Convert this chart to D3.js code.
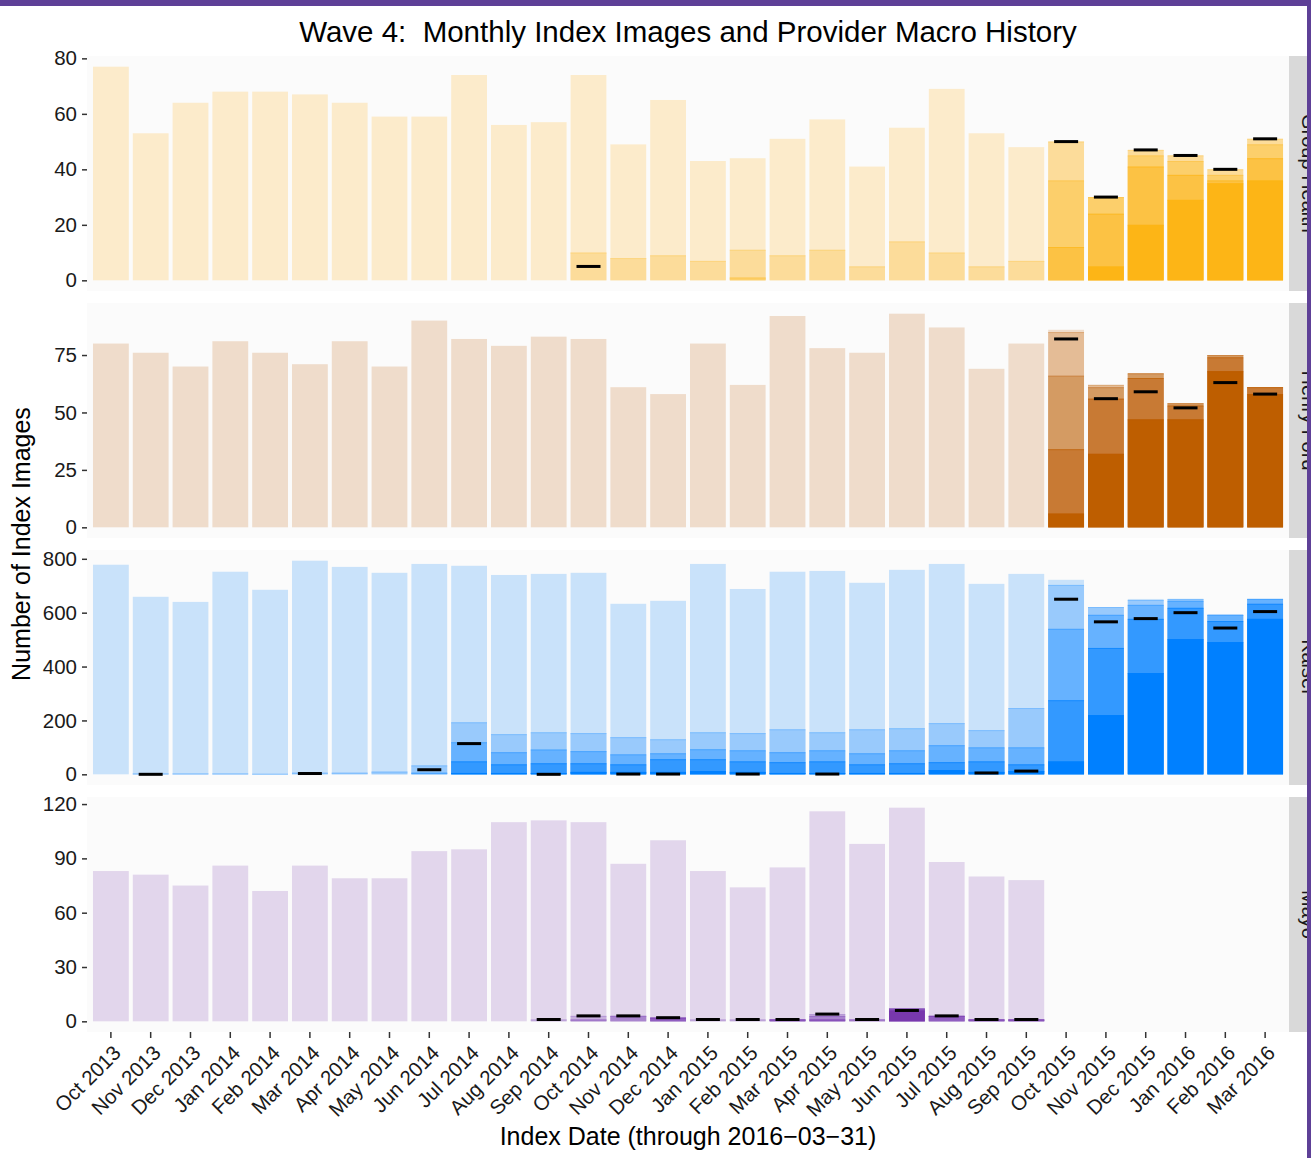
<!DOCTYPE html>
<meta charset="utf-8">
<style>
body { margin: 0; background: #fff; }
svg { display: block; font-family: "Liberation Sans", Arial, sans-serif; }
.tick line { stroke: #333; stroke-width: 1.5; }
.tick text { fill: #1a1a1a; font-size: 20.5px; }
</style>
<svg width="1311" height="1158"></svg>
<script src="https://d3js.org/d3.v7.min.js"></script>
<script>

var months = ["Oct 2013","Nov 2013","Dec 2013","Jan 2014","Feb 2014","Mar 2014","Apr 2014","May 2014",
  "Jun 2014","Jul 2014","Aug 2014","Sep 2014","Oct 2014","Nov 2014","Dec 2014","Jan 2015","Feb 2015",
  "Mar 2015","Apr 2015","May 2015","Jun 2015","Jul 2015","Aug 2015","Sep 2015","Oct 2015","Nov 2015",
  "Dec 2015","Jan 2016","Feb 2016","Mar 2016"];

var providers = ["Group Health", "Henry Ford", "Kaiser", "Mayo"];

// Group Health
var ghTotal = [77,53,64,68,68,67,64,59,59,74,56,57,74,49,65,43,44,51,58,41,55,69,53,48,50,30,47,45,40,51];
var ghL2    = [0,0,0,0,0,0,0,0,0,0,0,0,10,8,9,7,11,9,11,5,14,10,5,7,50,30,47,45,40,51];
var ghL3    = [0,0,0,0,0,0,0,0,0,0,0,0,0,0,0,0,1,0,0,0,0,0,0,0,36,30,45,43,38,49];
var ghL4    = [0,0,0,0,0,0,0,0,0,0,0,0,0,0,0,0,0,0,0,0,0,0,0,0,12,24,41,38,36,44];
var ghL5    = [0,0,0,0,0,0,0,0,0,0,0,0,0,0,0,0,0,0,0,0,0,0,0,0,0,5,20,29,35,36];
var ghMacro = [null,null,null,null,null,null,null,null,null,null,null,null,5,null,null,null,null,null,
  null,null,null,null,null,null,50,30,47,45,40,51];

// Henry Ford
var hfTotal = [80,76,70,81,76,71,81,70,90,82,79,83,82,61,58,80,62,92,78,76,93,87,69,80,86,62,67,54,75,61];
var hfL2    = [0,0,0,0,0,0,0,0,0,0,0,0,0,0,0,0,0,0,0,0,0,0,0,0,85,62,67,54,75,61];
var hfL3    = [0,0,0,0,0,0,0,0,0,0,0,0,0,0,0,0,0,0,0,0,0,0,0,0,66,61,67,54,75,61];
var hfL4    = [0,0,0,0,0,0,0,0,0,0,0,0,0,0,0,0,0,0,0,0,0,0,0,0,34,56,65,53,74,61];
var hfL5    = [0,0,0,0,0,0,0,0,0,0,0,0,0,0,0,0,0,0,0,0,0,0,0,0,6,32,47,47,68,58];
var hfMacro = [null,null,null,null,null,null,null,null,null,null,null,null,null,null,null,null,null,null,
  null,null,null,null,null,null,82,56,59,52,63,58];

// Kaiser
var kpTotal = [778,659,640,752,685,793,770,748,781,774,740,744,748,633,644,781,688,752,755,711,759,781,707,744,722,621,651,651,592,651];
var kpL2    = [0,3,3,3,2,6,6,10,33,193,149,156,153,138,130,156,153,167,156,167,171,190,164,246,703,621,647,651,592,651];
var kpL3    = [0,0,0,0,0,0,0,0,6,119,82,92,86,74,78,93,89,82,89,78,89,108,100,100,540,592,629,644,592,651];
var kpL4    = [0,0,0,0,0,0,0,0,0,48,37,41,41,37,56,56,48,45,48,37,41,45,48,37,275,469,577,618,569,633];
var kpL5    = [0,0,0,0,0,0,0,0,0,5,5,5,9,9,9,12,9,5,5,5,5,16,9,12,48,220,376,502,491,577];
var kpMacro = [null,0,null,null,null,3,null,null,17,114,null,0,null,1,1,null,1,null,1,null,null,null,5,12,
  650,566,578,600,543,604];

// Mayo
var myTotal = [83,81,75,86,72,86,79,79,94,95,110,111,110,87,100,83,74,85,116,98,118,88,80,78,null,null,null,null,null,null];
var myL2    = [0,0,0,0,0,0,0,0,0,0,0,1,3,3,2,1,1,1,4,1,7,3,1,1,null,null,null,null,null,null];
var myL3    = [0,0,0,0,0,0,0,0,0,0,0,0,1,3,2,0,0,1,3,1,7,3,1,1,null,null,null,null,null,null];
var myL4    = [0,0,0,0,0,0,0,0,0,0,0,0,0,0,2,0,0,1,1,0,7,3,1,1,null,null,null,null,null,null];
var myL5    = [0,0,0,0,0,0,0,0,0,0,0,0,0,0,0,0,0,0,0,0,6,0,0,0,null,null,null,null,null,null];
var myMacro = [null,null,null,null,null,null,null,null,null,null,null,1,3,3,2,1,1,1,4,1,6,3,1,1,
  null,null,null,null,null,null];

var yTicks = [[0,20,40,60,80], [0,25,50,75], [0,200,400,600,800], [0,30,60,90,120]];

var shades = [
  ["#fcebcb","#fcdc9a","#fccf6b","#fcc244","#fdb516"],
  ["#efdccb","#e4bc96","#d49b63","#c87a34","#be5e00"],
  ["#c9e2fa","#99cafc","#66b2ff","#3399ff","#0080ff"],
  ["#e2d6ec","#c7b0dd","#a985ce","#905ec0","#7838ad"]
];

var layers = [
  [ghTotal, ghL2, ghL3, ghL4, ghL5],
  [hfTotal, hfL2, hfL3, hfL4, hfL5],
  [kpTotal, kpL2, kpL3, kpL4, kpL5],
  [myTotal, myL2, myL3, myL4, myL5]
];
var macros = [ghMacro, hfMacro, kpMacro, myMacro];

var svg = d3.select("svg");

var left = 87, right = 1289, top0 = 56, panelH = 235, gap = 12;

var x = d3.scaleBand()
    .domain(months)
    .range([left, right])
    .paddingInner(0.1)
    .paddingOuter(0.15);

providers.forEach(function(name, p) {
  var pt = top0 + p * (panelH + gap), pb = pt + panelH;
  var max = d3.max(layers[p][0]);
  var y = d3.scaleLinear()
      .domain([-0.05 * max, max * 1.05])
      .range([pb, pt]);

  var g = svg.append("g");

  g.append("rect")
      .attr("x", left).attr("y", pt)
      .attr("width", right - left).attr("height", panelH)
      .attr("fill", "#fbfbfb");

  // strip
  g.append("rect")
      .attr("x", right).attr("y", pt)
      .attr("width", 1311 - right).attr("height", panelH)
      .attr("fill", "#d9d9d9");
  g.append("text")
      .attr("transform", "translate(1302," + (pt + panelH / 2) + ") rotate(90)")
      .attr("text-anchor", "middle")
      .attr("fill", "#1a1a1a")
      .style("font-size", "20px")
      .text(name);

  layers[p].forEach(function(vals, k) {
    var d = months.map(function(m, i) { return {m: m, v: vals[i]}; })
        .filter(function(d) { return d.v != null && d.v > 0; });
    var lg = g.append("g");
    lg.selectAll("rect")
      .data(d)
      .enter().append("rect")
        .attr("x", function(d) { return x(d.m); })
        .attr("width", x.bandwidth())
        .attr("y", function(d) { return y(d.v); })
        .attr("height", function(d) { return y(0) - y(d.v); })
        .attr("fill", shades[p][k]);
    // faint edge at the top of each inner layer
    if (k > 0) {
      lg.selectAll("line")
        .data(d)
        .enter().append("line")
          .attr("x1", function(d) { return x(d.m); })
          .attr("x2", function(d) { return x(d.m) + x.bandwidth(); })
          .attr("y1", function(d) { return y(d.v) + 0.5; })
          .attr("y2", function(d) { return y(d.v) + 0.5; })
          .attr("stroke", shades[p][Math.min(k + 1, 4)])
          .attr("stroke-opacity", 0.6)
          .attr("stroke-width", 1);
    }
  });

  g.append("g").selectAll("rect")
    .data(months.map(function(m, i) { return {m: m, v: macros[p][i]}; })
      .filter(function(d) { return d.v != null; }))
    .enter().append("rect")
      .attr("x", function(d) { return x(d.m) + x.bandwidth() / 2 - 12; })
      .attr("width", 24)
      .attr("y", function(d) { return y(d.v) - 1.5; })
      .attr("height", 3)
      .attr("fill", "#000");

  g.append("g")
      .attr("transform", "translate(" + left + ",0)")
      .call(d3.axisLeft(y).tickValues(yTicks[p]).tickSize(5).tickPadding(5))
      .call(function(a) { a.select(".domain").remove(); });

  if (p === providers.length - 1) {
    var xa = g.append("g")
        .attr("transform", "translate(0," + pb + ")")
        .call(d3.axisBottom(x).tickSize(6))
        .call(function(a) { a.select(".domain").remove(); });
    xa.selectAll("text")
        .attr("x", 0).attr("y", 0)
        .attr("dy", "0.71em")
        .attr("transform", "translate(1,12) rotate(-45)")
        .style("text-anchor", "end");
  }
});

svg.append("text")
    .attr("x", (left + right) / 2)
    .attr("y", 42)
    .attr("text-anchor", "middle")
    .style("font-size", "29.5px")
    .style("white-space", "pre")
    .attr("fill", "#000")
    .text("Wave 4:  Monthly Index Images and Provider Macro History");

svg.append("text")
    .attr("transform", "translate(30," + (top0 + (4 * panelH + 3 * gap) / 2) + ") rotate(-90)")
    .attr("text-anchor", "middle")
    .style("font-size", "25px")
    .attr("fill", "#000")
    .text("Number of Index Images");

svg.append("text")
    .attr("x", (left + right) / 2)
    .attr("y", 1145)
    .attr("text-anchor", "middle")
    .style("font-size", "25px")
    .attr("fill", "#000")
    .text("Index Date (through 2016\u221203\u221231)");

// frame
svg.append("rect").attr("x", 0).attr("y", 0).attr("width", 1311).attr("height", 6).attr("fill", "#5e4097");
svg.append("rect").attr("x", 1307).attr("y", 0).attr("width", 4).attr("height", 1158).attr("fill", "#5e4097");

</script>
